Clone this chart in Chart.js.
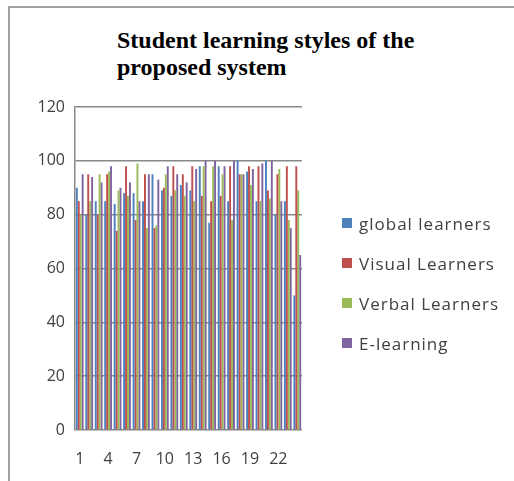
<!DOCTYPE html>
<html>
<head>
<meta charset="utf-8">
<script src="https://cdn.jsdelivr.net/npm/chart.js@4.4.0/dist/chart.umd.min.js"></script>
<style>
	html, body { margin: 0; padding: 0; background: #fff; }
	#wrap { position: relative; width: 514px; height: 481px; overflow: hidden; }
	#frame { position: absolute; left: 8px; top: 6px; width: 530px; height: 500px; border: 2px solid #a0a0a0; }
	#title { position: absolute; left: 117px; top: 27px; font: bold 24px "Liberation Serif"; line-height: 27px; color: #000; }
	#legend { position: absolute; left: 342px; top: 203px; font: 17px "Open Sans"; letter-spacing: 1px; color: #404040; }
	#legend .item { height: 40px; display: flex; align-items: center; }
	#legend .sw { width: 10px; height: 10px; margin-right: 7px; }
	canvas { position: absolute; left: 0; top: 0; }
</style>
</head>
<body>
<div id="wrap">
	<div id="frame"></div>
	<div id="title">Student learning styles of the<br>proposed system</div>
	<canvas id="chart" width="514" height="481"></canvas>
	<div id="legend"></div>
</div>

<script>
// === Data ===
const labels = ["1", "2", "3", "4", "5", "6", "7", "8", "9", "10", "11", "12",
	"13", "14", "15", "16", "17", "18", "19", "20", "21", "22", "23", "24"];

const globalLearners = [90, 80, 85, 85, 84, 88, 88, 85, 95, 89, 87, 91,
	89, 98, 77, 98, 85, 100, 96, 85, 100, 80, 85, 50];
const visualLearners = [85, 95, 80, 95, 74, 98, 78, 95, 75, 90, 98, 95,
	98, 87, 85, 87, 98, 95, 98, 98, 89, 95, 98, 98];
const verbalLearners = [80, 85, 95, 96, 89, 87, 99, 75, 76, 95, 89, 87,
	85, 98, 98, 95, 78, 95, 91, 85, 86, 97, 78, 89];
const eLearning = [95, 94, 92, 98, 90, 92, 85, 95, 93, 98, 95, 92,
	97, 100, 100, 98, 100, 95, 97, 99, 100, 85, 75, 65];

const seriesNames = ["global learners", "Visual Learners", "Verbal Learners", "E-learning"];
const seriesColors = ["#4F81BD", "#C0504D", "#9BBB59", "#8064A2"];
const yTicks = [0, 20, 40, 60, 80, 100, 120];

const allSeries = [globalLearners, visualLearners, verbalLearners, eLearning];

const tickFont = { family: "Open Sans", size: 16 };
const gridColor = "#888888";

// === Legend (html) ===
const legendBox = document.getElementById("legend");
seriesNames.forEach((name, i) => {
	const row = document.createElement("div");
	row.className = "item";
	row.innerHTML = `<span class="sw" style="background:${seriesColors[i]}"></span>${name}`;
	legendBox.appendChild(row);
});

// === Chart ===
new Chart(document.getElementById("chart"), {
	type: "bar",
	data: {
		labels: labels,
		datasets: allSeries.map((data, i) => ({
			label: seriesNames[i],
			data: data,
			backgroundColor: seriesColors[i],
			borderWidth: 0,
			categoryPercentage: 0.82,
			barPercentage: 1.0,
		})),
	},
	options: {
		responsive: false,
		animation: false,
		layout: { padding: { top: 107, right: 212, bottom: 0, left: 0 } },
		plugins: {
			legend: { display: false },
			title: { display: false },
			tooltip: { enabled: false },
		},
		scales: {
			x: {
				grid: { display: false, drawTicks: false },
				border: { display: false },
				ticks: {
					autoSkip: false,
					maxRotation: 0,
					padding: 20,
					color: "#404040",
					font: tickFont,
					callback: (v, i) => (i % 3 === 0 ? labels[i] : ""),
				},
				afterFit: (s) => { s.height = 51; },
			},
			y: {
				min: 0,
				max: 120,
				afterBuildTicks: (s) => { s.ticks = yTicks.map((v) => ({ value: v })); },
				ticks: { padding: 10, color: "#404040", font: tickFont },
				grid: { color: gridColor, lineWidth: 1.5, drawTicks: false },
				border: { display: true, color: gridColor, width: 1.5 },
				afterFit: (s) => { s.width = 75; },
			},
		},
	},
});
</script>
</body>
</html>
